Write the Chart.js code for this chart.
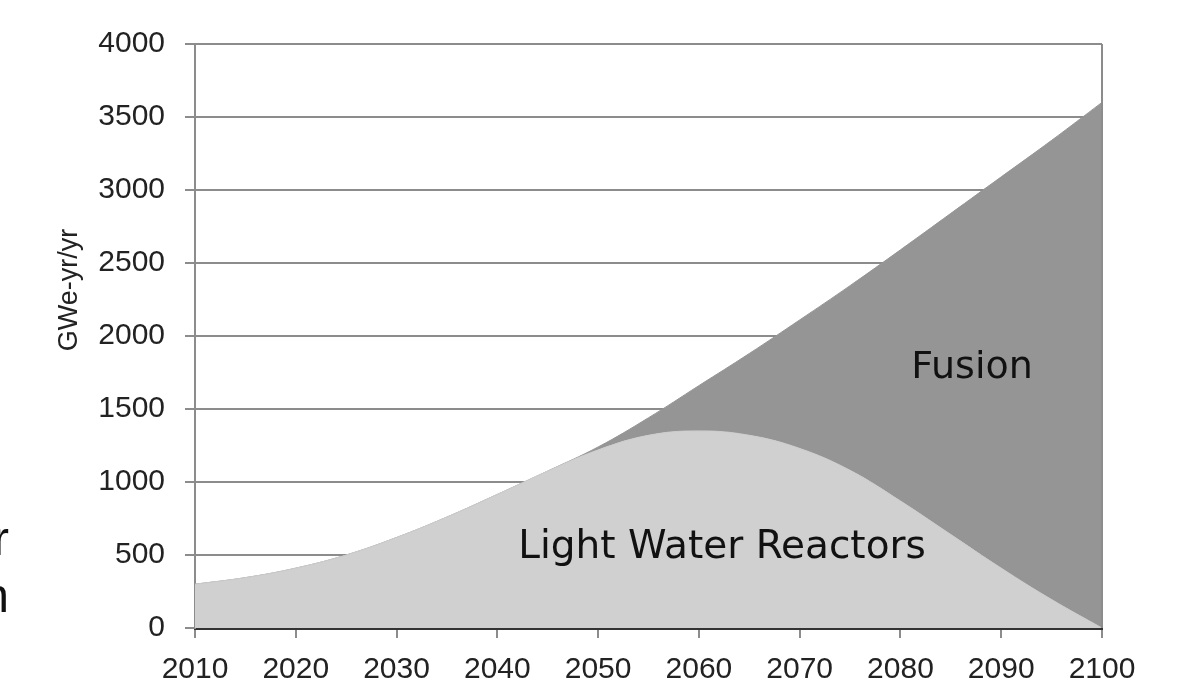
<!DOCTYPE html>
<html lang="en">
<head>
    <meta charset="UTF-8">
    <title>LWR and Fusion</title>
    <script src="https://cdn.jsdelivr.net/npm/chart.js"></script>
    <style>
        body {
            margin: 0;
            padding: 0;
            background: #fff;
        }
        #chart {
            display: block;
        }
    </style>
</head>
<body>
    <canvas id="chart" width="1182" height="694"></canvas>
    <script>
        // values (GWe-yr/yr)
        const years = [2010, 2015, 2020, 2025, 2030, 2035, 2040, 2045, 2050, 2055,
                       2060, 2065, 2070, 2075, 2080, 2085, 2090, 2095, 2100];
        const lwr = [300, 345, 410, 500, 620, 760, 915, 1075, 1220, 1320,
                     1350, 1320, 1230, 1080, 870, 640, 410, 195, 0];
        const total = [300, 345, 410, 500, 620, 760, 915, 1075, 1240, 1440,
                       1660, 1880, 2110, 2345, 2590, 2840, 3090, 3340, 3600];
        const xTicks = [2010, 2020, 2030, 2040, 2050, 2060, 2070, 2080, 2090, 2100];
        const yTicks = [0, 500, 1000, 1500, 2000, 2500, 3000, 3500, 4000];

        const gridGray = '#8c8c8c';
        const tickFont = { family: 'Liberation Sans, Arial, sans-serif', size: 30 };

        // text drawn on the plot + right frame line
        const extras = {
            id: 'extras',
            afterDatasetsDraw(chart) {
                const ctx = chart.ctx;
                const a = chart.chartArea;
                ctx.save();
                ctx.strokeStyle = gridGray;
                ctx.lineWidth = 2;
                ctx.beginPath();
                ctx.moveTo(a.right, a.top);
                ctx.lineTo(a.right, a.bottom);
                ctx.stroke();
                ctx.restore();
            },
            afterDraw(chart) {
                const ctx = chart.ctx;
                const xs = chart.scales.x;
                const ys = chart.scales.y;
                ctx.save();
                ctx.fillStyle = '#111';
                ctx.textAlign = 'center';
                ctx.textBaseline = 'alphabetic';
                ctx.font = '38px "DejaVu Sans", sans-serif';
                ctx.fillText('Fusion', xs.getPixelForValue(2087.1), ys.getPixelForValue(1710));
                ctx.font = '39px "DejaVu Sans", sans-serif';
                ctx.fillText('Light Water Reactors', xs.getPixelForValue(2062.3), ys.getPixelForValue(480));

                // cut-off letters at the left edge of the picture
                ctx.textAlign = 'right';
                ctx.font = '48px "Liberation Sans", Arial, sans-serif';
                ctx.fillText('r', 9, 555);
                ctx.fillText('n', 9, 612);

                // axis title
                ctx.translate(77, 290);
                ctx.rotate(-Math.PI / 2);
                ctx.textAlign = 'center';
                ctx.font = '27px "Liberation Sans", Arial, sans-serif';
                ctx.fillStyle = '#222';
                ctx.fillText('GWe-yr/yr', 0, 0);
                ctx.restore();
            }
        };

        const chart = new Chart(document.getElementById('chart'), {
            type: 'line',
            data: {
                datasets: [{
                    label: 'Light Water Reactors',
                    data: years.map((yr, i) => ({ x: yr, y: lwr[i] })),
                    backgroundColor: '#d0d0d0',
                    borderColor: '#cbcbcb',
                    borderWidth: 1,
                    pointRadius: 0,
                    tension: 0.4,
                    fill: 'origin'
                }, {
                    label: 'Fusion',
                    data: years.map((yr, i) => ({ x: yr, y: total[i] })),
                    backgroundColor: '#959595',
                    borderColor: '#959595',
                    borderWidth: 1,
                    pointRadius: 0,
                    tension: 0.4,
                    fill: '-1'
                }]
            },
            options: {
                responsive: false,
                animation: false,
                layout: { padding: { top: 44, right: 80, left: 0, bottom: 0 } },
                plugins: {
                    legend: { display: false },
                    tooltip: { enabled: false }
                },
                scales: {
                    x: {
                        type: 'linear',
                        min: 2010,
                        max: 2100,
                        afterBuildTicks: (s) => { s.ticks = xTicks.map(v => ({ value: v })); },
                        afterFit: (s) => { s.height = 66; },
                        grid: {
                            drawOnChartArea: false,
                            drawTicks: true,
                            tickLength: 10,
                            color: gridGray,
                            lineWidth: 2
                        },
                        border: { color: '#333', width: 3 },
                        ticks: {
                            font: tickFont,
                            color: '#222',
                            padding: 14,
                            maxRotation: 0,
                            callback: (v) => String(v)
                        }
                    },
                    y: {
                        min: 0,
                        max: 4000,
                        afterBuildTicks: (s) => { s.ticks = yTicks.map(v => ({ value: v })); },
                        afterFit: (s) => { s.width = 195; },
                        grid: {
                            color: gridGray,
                            lineWidth: 2,
                            tickLength: 10
                        },
                        border: { color: gridGray, width: 2 },
                        ticks: {
                            font: tickFont,
                            color: '#222',
                            padding: 20,
                            callback: (v) => String(v)
                        }
                    }
                }
            },
            plugins: [extras]
        });
    </script>
</body>
</html>
